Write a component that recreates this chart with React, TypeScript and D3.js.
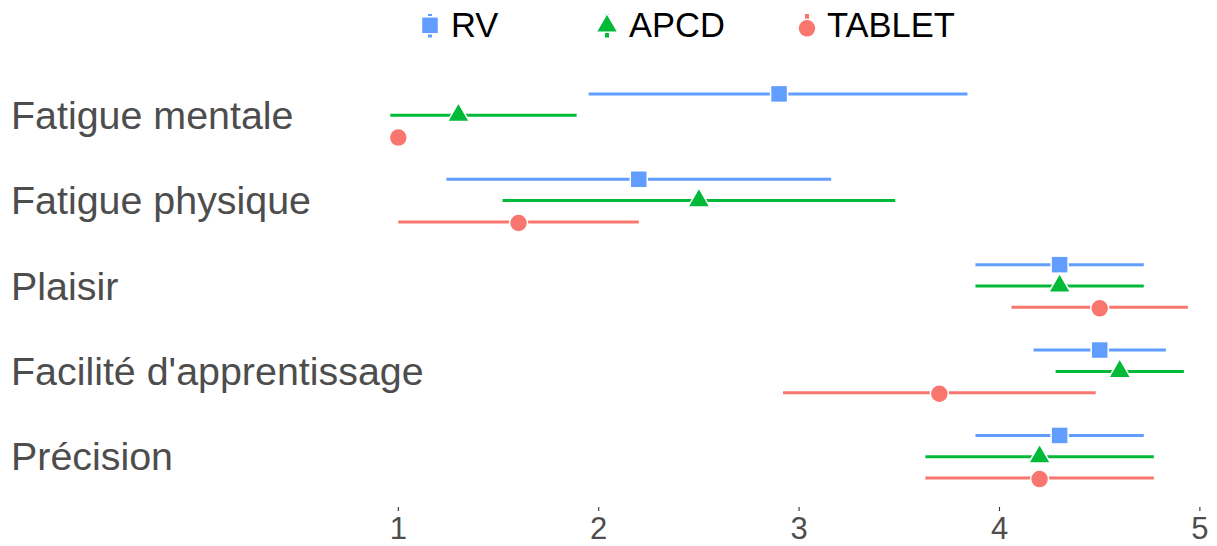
import React from "react";
import * as d3 from "d3";

const categories = [
  "Fatigue mentale",
  "Fatigue physique",
  "Plaisir",
  "Facilité d'apprentissage",
  "Précision",
];
const seriesNames = ["RV", "APCD", "TABLET"];
const seriesColors = ["#619CFF", "#00BA38", "#F8766D"];

const rvMean = [2.9, 2.2, 4.3, 4.5, 4.3];
const rvLow = [1.95, 1.24, 3.88, 4.17, 3.88];
const rvHigh = [3.84, 3.16, 4.72, 4.83, 4.72];

const apcdMean = [1.3, 2.5, 4.3, 4.6, 4.2];
const apcdLow = [0.96, 1.52, 3.88, 4.28, 3.63];
const apcdHigh = [1.89, 3.48, 4.72, 4.92, 4.77];

const tabletMean = [1.0, 1.6, 4.5, 3.7, 4.2];
const tabletLow = [1.0, 1.0, 4.06, 2.92, 3.63];
const tabletHigh = [1.0, 2.2, 4.94, 4.48, 4.77];

const xTicks = [1, 2, 3, 4, 5];

const seriesData = [
  { mean: rvMean, low: rvLow, high: rvHigh },
  { mean: apcdMean, low: apcdLow, high: apcdHigh },
  { mean: tabletMean, low: tabletLow, high: tabletHigh },
];

const W = 1217;
const H = 546;

function Marker({ kind, cx, cy, color }: { kind: number; cx: number; cy: number; color: string }) {
  const stroke = "#ffffff";
  const sw = 1.5;
  if (kind === 0) {
    const s = 17;
    return <rect x={cx - s / 2} y={cy - s / 2} width={s} height={s} fill={color} stroke={stroke} strokeWidth={sw} />;
  }
  if (kind === 1) {
    const side = 22;
    const h = (side * Math.sqrt(3)) / 2;
    const p = [
      [cx, cy - (2 / 3) * h],
      [cx - side / 2, cy + h / 3],
      [cx + side / 2, cy + h / 3],
    ];
    return <polygon points={p.map((q) => q.join(",")).join(" ")} fill={color} stroke={stroke} strokeWidth={sw} />;
  }
  return <circle cx={cx} cy={cy + 1} r={9} fill={color} stroke={stroke} strokeWidth={sw} />;
}

export default function App() {
  const x = d3.scaleLinear().domain([1, 5]).range([398.3, 1199.9]);
  const y = d3.scalePoint<string>().domain(categories).range([64, 508]).padding(0.6);
  const step = y.step();
  const dodge = (i: number) => (i - 1) * step * 0.25;

  const legendMarkerX = [430, 607, 807];
  const legendMarkerY = [25.3, 26, 27.3];
  const legendTextX = [451, 629, 827];

  return (
    <div style={{ position: "fixed", left: 0, top: 0 }}>
      <svg width={W} height={H} style={{ display: "block", background: "#fff" }} fontFamily="Liberation Sans, Arial, sans-serif">
        {/* legend */}
        {seriesNames.map((name, i) => (
          <g key={name}>
            <line x1={legendMarkerX[i]} x2={legendMarkerX[i]} y1={14} y2={37.5} stroke={seriesColors[i]} strokeWidth={4} />
            <Marker kind={i} cx={legendMarkerX[i]} cy={legendMarkerY[i]} color={seriesColors[i]} />
            <text x={legendTextX[i]} y={37} fontSize={34.5} fill="#000">
              {name}
            </text>
          </g>
        ))}

        {/* y labels */}
        {categories.map((c) => (
          <text key={c} x={11} y={(y(c) as number) + 13.5} fontSize={39.4} fill="#4D4D4D">
            {c}
          </text>
        ))}

        {/* x axis ticks */}
        {xTicks.map((t) => (
          <g key={t}>
            <line x1={x(t)} x2={x(t)} y1={507} y2={511} stroke="#333333" strokeWidth={1.1} />
            <text x={x(t)} y={539} fontSize={31} fill="#4D4D4D" textAnchor="middle">
              {t}
            </text>
          </g>
        ))}

        {/* error bars and points */}
        {seriesData.map((s, i) => (
          <g key={seriesNames[i]}>
            {categories.map((c, j) => {
              const cy = (y(c) as number) + dodge(i);
              return (
                <g key={c}>
                  {s.high[j] > s.low[j] && (
                    <line x1={x(s.low[j])} x2={x(s.high[j])} y1={cy} y2={cy} stroke={seriesColors[i]} strokeWidth={3} />
                  )}
                  <Marker kind={i} cx={x(s.mean[j])} cy={cy} color={seriesColors[i]} />
                </g>
              );
            })}
          </g>
        ))}
      </svg>
    </div>
  );
}
